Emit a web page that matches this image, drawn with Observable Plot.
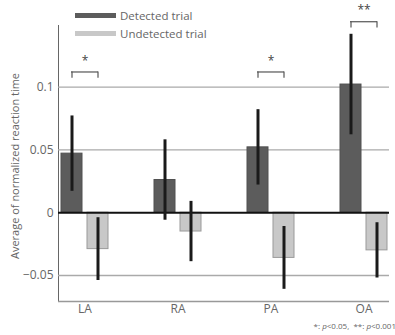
<!DOCTYPE html>
<html><head><meta charset="utf-8">
<script src="https://cdn.jsdelivr.net/npm/d3@7"></script>
<script src="https://cdn.jsdelivr.net/npm/@observablehq/plot@0.6"></script>
<style>
body{margin:0;background:#fff;}
#wrap{position:relative;width:395px;height:335px;font-family:"Open Sans",sans-serif;color:#666;}
.leg{position:absolute;left:75px;font-size:11.5px;display:flex;align-items:center;line-height:1;}
.sw{width:41px;height:5px;margin-right:4px;}
#foot{position:absolute;right:-1px;top:320px;font-size:8px;white-space:pre;}
#ylab{position:absolute;left:14px;top:166px;font-size:11px;white-space:nowrap;transform:translate(-50%,-50%) rotate(-90deg);}
#wrap svg{position:absolute;left:0;top:0;}
</style></head><body><div id="wrap"></div>
<script>
const regions = ["LA", "RA", "PA", "OA"];
const detected = [0.047, 0.026, 0.052, 0.102];
const detectedErr = [0.030, 0.032, 0.030, 0.040];
const undetected = [-0.029, -0.015, -0.036, -0.030];
const undetectedErr = [0.025, 0.024, 0.025, 0.022];
const sigRegions = ["LA", "PA", "OA"];
const sigLabels = ["*", "*", "**"];
const sigLevels = [0.112, 0.112, 0.152];
const sigLegLength = 0.005;
const sigStarOffset = 0.009;
const yTicks = [-0.05, 0, 0.05, 0.1];
const yTickLabels = ["−0.05", "0", "0.05", "0.1"];
const gridTicks = [-0.05, 0.05, 0.1];
const yDomain = [-0.0707, 0.149];
const yTitle = "Average of normalized reaction time";
const seriesNames = ["Detected trial", "Undetected trial"];
const seriesColors = ["#5c5c5c", "#c8c8c8"];
const seriesStroke = ["#505050", "#9a9a9a"];

const det = regions.map((r, i) => ({region: r, value: detected[i], err: detectedErr[i]}));
const und = regions.map((r, i) => ({region: r, value: undetected[i], err: undetectedErr[i]}));
const sig = sigRegions.map((r, i) => ({region: r, label: sigLabels[i], y: sigLevels[i]}));

const plot = Plot.plot({
  width: 395, height: 335,
  marginLeft: 58, marginRight: 6, marginTop: 25, marginBottom: 34,
  style: {fontFamily: "Open Sans, sans-serif", fontSize: "12px", color: "#666", background: "transparent", overflow: "visible"},
  x: {domain: regions, paddingInner: 0.495, paddingOuter: 0.02, label: null, tickSize: 0, tickPadding: 3},
  y: {domain: yDomain, ticks: yTicks, tickFormat: d => yTickLabels[yTicks.indexOf(d)], label: null, tickSize: 0, tickPadding: 5, line: true},
  marks: [
    Plot.ruleY(gridTicks, {stroke: "#aaa", strokeWidth: 1.3}),
    Plot.ruleY([yDomain[0]], {stroke: "#999", strokeWidth: 1.5}),
    Plot.barY(det, {x: "region", y: "value", fill: seriesColors[0], stroke: seriesStroke[0], insetRight: 26}),
    Plot.barY(und, {x: "region", y: "value", fill: seriesColors[1], stroke: seriesStroke[1], insetLeft: 26}),
    Plot.ruleY([0], {stroke: "#111", strokeWidth: 2}),
    Plot.ruleX(det, {x: "region", y1: d => d.value - d.err, y2: d => d.value + d.err, dx: -13, stroke: "#1a1a1a", strokeWidth: 3}),
    Plot.ruleX(und, {x: "region", y1: d => d.value - d.err, y2: d => d.value + d.err, dx: 13, stroke: "#1a1a1a", strokeWidth: 3}),
    Plot.tickY(sig, {x: "region", y: "y", insetLeft: 10, insetRight: 10, stroke: "#555", strokeWidth: 1.2}),
    Plot.ruleX(sig, {x: "region", y1: "y", y2: d => d.y - sigLegLength, dx: -13, stroke: "#555", strokeWidth: 1.2}),
    Plot.ruleX(sig, {x: "region", y1: "y", y2: d => d.y - sigLegLength, dx: 13, stroke: "#555", strokeWidth: 1.2}),
    Plot.text(sig, {x: "region", y: d => d.y + sigStarOffset, text: "label", fill: "#444", fontSize: 12})
  ]
});

const wrap = document.getElementById("wrap");
wrap.appendChild(plot);
seriesNames.forEach((name, i) => {
  const div = document.createElement("div");
  div.className = "leg";
  div.style.top = (10 + i * 18) + "px";
  div.innerHTML = `<span class="sw" style="background:${seriesColors[i]}"></span><span>${name}</span>`;
  wrap.appendChild(div);
});
const ylab = document.createElement("div");
ylab.id = "ylab";
ylab.textContent = yTitle;
wrap.appendChild(ylab);
const foot = document.createElement("div");
foot.id = "foot";
foot.innerHTML = "*: <i>p</i>&lt;0.05,  **: <i>p</i>&lt;0.001";
wrap.appendChild(foot);
</script></body></html>
